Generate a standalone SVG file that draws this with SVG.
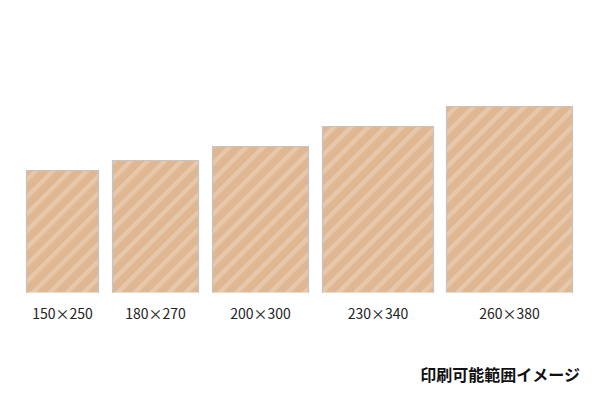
<svg xmlns="http://www.w3.org/2000/svg" width="600" height="400" viewBox="0 0 600 400">
<defs>
<pattern id="stripes" patternUnits="userSpaceOnUse" width="12" height="12" patternTransform="rotate(45)">
<rect width="12" height="12" fill="#dfb792"/>
<rect width="4.5" height="12" fill="#e7c8aa"/>
</pattern>
</defs>
<style>
.sheet{fill:url(#stripes);}
.edge{fill:none;stroke:#c4c4c4;stroke-width:1.2;}
.bottom{stroke:#f0dcc8;stroke-width:1;}
.lbl{font-family:"Noto Sans CJK JP","Noto Sans",sans-serif;font-size:14px;fill:#222;text-anchor:middle;}
.title{font-family:"Noto Sans CJK JP",sans-serif;font-size:16px;font-weight:bold;fill:#111;text-anchor:end;}
</style>
<rect width="600" height="400" fill="#ffffff"/>
<g id="size-150x250">
<rect class="sheet" x="26" y="170" width="73" height="123"/>
<path class="edge" d="M26.5 293V170.5H98.5V293"/>
<line class="bottom" x1="27" y1="292.5" x2="98" y2="292.5"/>
<text class="lbl" x="62.5" y="319">150×250</text>
</g>
<g id="size-180x270">
<rect class="sheet" x="112" y="160" width="87" height="133"/>
<path class="edge" d="M112.5 293V160.5H198.5V293"/>
<line class="bottom" x1="113" y1="292.5" x2="198" y2="292.5"/>
<text class="lbl" x="155.5" y="319">180×270</text>
</g>
<g id="size-200x300">
<rect class="sheet" x="212" y="146" width="97" height="147"/>
<path class="edge" d="M212.5 293V146.5H308.5V293"/>
<line class="bottom" x1="213" y1="292.5" x2="308" y2="292.5"/>
<text class="lbl" x="260.5" y="319">200×300</text>
</g>
<g id="size-230x340">
<rect class="sheet" x="322" y="126" width="112" height="167"/>
<path class="edge" d="M322.5 293V126.5H433.5V293"/>
<line class="bottom" x1="323" y1="292.5" x2="433" y2="292.5"/>
<text class="lbl" x="378" y="319">230×340</text>
</g>
<g id="size-260x380">
<rect class="sheet" x="446" y="106" width="127" height="187"/>
<path class="edge" d="M446.5 293V106.5H572.5V293"/>
<line class="bottom" x1="447" y1="292.5" x2="572" y2="292.5"/>
<text class="lbl" x="509.5" y="319">260×380</text>
</g>
<g id="connectors"></g>
<text class="title" x="580" y="381">印刷可能範囲イメージ</text>
</svg>
